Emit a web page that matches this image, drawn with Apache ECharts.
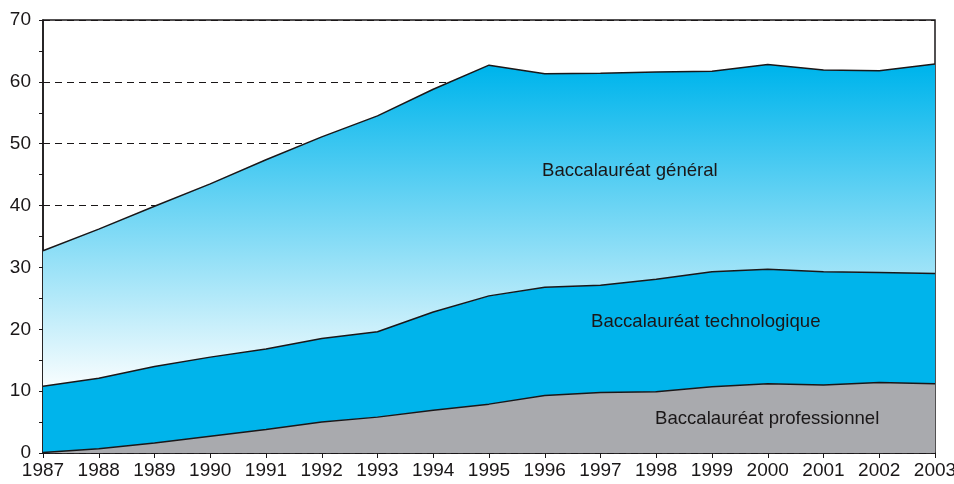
<!DOCTYPE html>
<html>
<head>
<meta charset="utf-8">
<script src="https://cdn.jsdelivr.net/npm/echarts@6/dist/echarts.min.js"></script>
<style>
  html, body { margin: 0; padding: 0; background: #fff; }
  #main { width: 954px; height: 484px; }
</style>
</head>
<body>
<div id="main"></div>
<script>
var years = ['1987', '1988', '1989', '1990', '1991', '1992', '1993', '1994', '1995',
  '1996', '1997', '1998', '1999', '2000', '2001', '2002', '2003'];

// values, each layer on its own (stacked)
var professionnel = [0.1, 0.7, 1.6, 2.7, 3.8, 5.0, 5.8, 6.9, 7.9, 9.3, 9.8, 9.9, 10.7, 11.2, 11.0, 11.4, 11.2];
var technologique = [10.7, 11.4, 12.4, 12.8, 13.0, 13.5, 13.8, 15.9, 17.5, 17.5, 17.3, 18.2, 18.6, 18.5, 18.3, 17.8, 17.8];
var general = [21.9, 24.1, 25.9, 28.0, 30.6, 32.6, 34.9, 36.0, 37.3, 34.5, 34.3, 33.5, 32.4, 33.1, 32.6, 32.6, 33.9];

var ink = '#1a1718';
var font = 'Liberation Sans, Arial, Helvetica, sans-serif';

var chart = echarts.init(document.getElementById('main'));

var option = {
  animation: false,
  grid: {
    left: 43, right: 19, top: 20, bottom: 31,
    outerBoundsMode: 'none',
    show: true,
    borderColor: ink,
    borderWidth: 1.5
  },
  xAxis: {
    type: 'category',
    data: years,
    boundaryGap: false,
    axisLine: { lineStyle: { color: ink, width: 1.5 } },
    axisTick: { alignWithLabel: true, length: 5, lineStyle: { color: ink } },
    axisLabel: { color: ink, fontSize: 19, fontFamily: font, margin: 8, hideOverlap: false },
    splitLine: { show: false }
  },
  yAxis: {
    type: 'value',
    min: 0,
    max: 70,
    interval: 10,
    axisLine: { show: true, lineStyle: { color: ink, width: 1.5 } },
    axisTick: { show: true, length: 4, lineStyle: { color: ink } },
    minorTick: { show: true, splitNumber: 2, length: 4, lineStyle: { color: ink } },
    axisLabel: { color: ink, fontSize: 19, fontFamily: font, margin: 12 },
    splitLine: { lineStyle: { color: ink, type: [7, 5], width: 1 } }
  },
  series: [
    {
      name: 'Baccalauréat professionnel',
      type: 'line',
      stack: 'bac',
      symbol: 'none',
      data: professionnel,
      lineStyle: { color: ink, width: 1.5 },
      areaStyle: { color: '#a9aaae', opacity: 1 }
    },
    {
      name: 'Baccalauréat technologique',
      type: 'line',
      stack: 'bac',
      symbol: 'none',
      data: technologique,
      lineStyle: { color: ink, width: 1.5 },
      areaStyle: { color: '#00b4eb', opacity: 1 }
    },
    {
      name: 'Baccalauréat général',
      type: 'line',
      stack: 'bac',
      symbol: 'none',
      data: general,
      lineStyle: { color: ink, width: 1.5 },
      areaStyle: {
        opacity: 1,
        color: new echarts.graphic.LinearGradient(0, 70, 0, 395, [
          { offset: 0, color: '#00b5ec' },
          { offset: 1, color: '#ffffff' }
        ], true)
      }
    }
  ],
  graphic: [
    { type: 'text', z: 100, left: 542, top: 161, style: { text: 'Baccalauréat général', fill: ink, fontSize: 18.6, fontFamily: font } },
    { type: 'text', z: 100, left: 591, top: 312, style: { text: 'Baccalauréat technologique', fill: ink, fontSize: 18.6, fontFamily: font } },
    { type: 'text', z: 100, left: 655, top: 409, style: { text: 'Baccalauréat professionnel', fill: ink, fontSize: 18.6, fontFamily: font } }
  ]
};

chart.setOption(option);
</script>
</body>
</html>
